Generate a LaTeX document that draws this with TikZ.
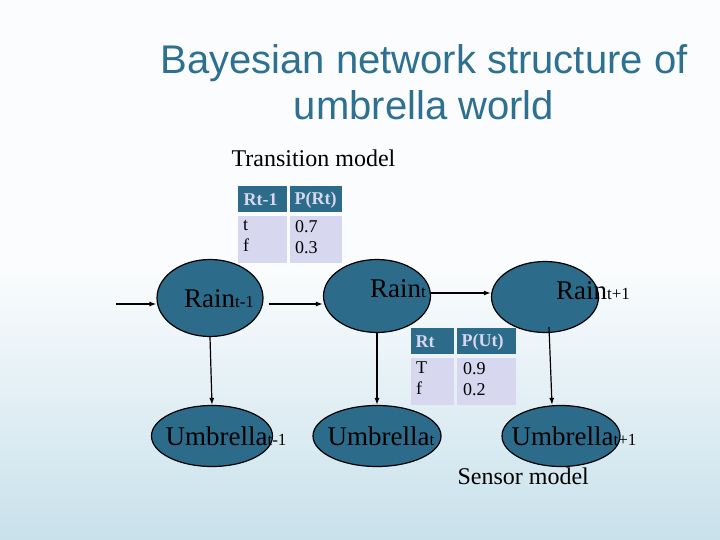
\documentclass[tikz,border=0pt]{standalone}
\usepackage{fontspec}
\setmainfont{Liberation Serif}
\newfontfamily\titlefont{Liberation Sans}
\usetikzlibrary{arrows.meta,shapes.geometric}
\definecolor{teal1}{RGB}{44,108,138}
\definecolor{titlec}{RGB}{46,112,144}
\definecolor{cellc}{RGB}{215,215,240}
\definecolor{bgtop}{RGB}{250,252,253}
\definecolor{bgbot}{RGB}{200,225,235}
\newcommand{\subsz}{\fontsize{17}{19}\selectfont}
\tikzset{
 ell/.style={ellipse,draw=black,line width=1.2pt,fill=teal1,inner sep=0pt},
 lbl/.style={font=\fontsize{27}{30}\selectfont,inner sep=0pt},
 arr/.style={-{Latex[length=7pt,width=5pt]},line width=1.2pt},
 hdr/.style={text=cellc,font=\bfseries\fontsize{18}{20}\selectfont,anchor=west},
 cell/.style={font=\fontsize{18}{21}\selectfont,anchor=north west,align=left,inner sep=0pt},
}
\begin{document}
\begin{tikzpicture}[x=1pt,y=-1pt]
\useasboundingbox (0,0) rectangle (720,540);
\shade[top color=bgtop,bottom color=bgbot,middle color=bgtop] (0,0) rectangle (720,540);
\node[titlec,font=\titlefont\fontsize{40}{46}\selectfont,align=center] (title) at (424,82) {Bayesian network structure of\\umbrella world};
\node[font=\fontsize{24}{26}\selectfont,anchor=west] (trans) at (228,158) {Transition model};
% transition table
\fill[teal1] (238,186) rectangle (287,212);
\fill[teal1] (290,186) rectangle (342,212);
\fill[cellc] (238,216) rectangle (287,263);
\fill[cellc] (290,216) rectangle (342,263);
\node[hdr] (h1) at (240,200) {Rt-1};
\node[hdr] (h2) at (291,200) {P(Rt)};
\node[cell] (c1) at (243,220) {t\\f};
\node[cell] (c2) at (295,220) {0.7\\0.3};
% sensor table
\fill[teal1] (411,328) rectangle (454,354);
\fill[teal1] (457,328) rectangle (516,354);
\fill[cellc] (411,358) rectangle (454,405);
\fill[cellc] (457,358) rectangle (516,405);
\node[hdr] (s1) at (412,342) {Rt};
\node[hdr] (s2) at (458,342) {P(Ut)};
\node[cell] (s3) at (416,362) {T\\f};
\node[cell] (s4) at (463,362) {0.9\\0.2};
% nodes
\node[ell,minimum width=106pt,minimum height=77pt] (r0) at (210,298) {};
\node[ell,minimum width=107pt,minimum height=73pt] (r1) at (377,296) {};
\node[ell,minimum width=107pt,minimum height=71pt] (r2) at (545,297) {};
\node[ell,minimum width=121pt,minimum height=61pt] (u0) at (212,436) {};
\node[ell,minimum width=128pt,minimum height=61pt] (u1) at (377,436) {};
\node[ell,minimum width=118pt,minimum height=61pt] (u2) at (561,436) {};
\node[lbl] (lr0) at (219,299) {Rain{\subsz t-1}};
\node[lbl] (lr1) at (398,289) {Rain{\subsz t}};
\node[lbl] (lr2) at (593,291) {Rain{\subsz t+1}};
\node[lbl] (lu0) at (226,436) {Umbrella{\subsz t-1}};
\node[lbl] (lu1) at (381,436) {Umbrella{\subsz t}};
\node[lbl] (lu2) at (574,436) {Umbrella{\subsz t+1}};
\node[font=\fontsize{24}{26}\selectfont,anchor=west] (sens) at (454,476) {Sensor model};
\coordinate (in) at (116,304);
\draw[arr] (in) -- (r0.west |- in);
\draw[arr] ([xshift=5pt]r0.east |- 0,304) -- (r1.west |- 0,304);
\draw[arr] (r1.east |- 0,293) -- (r2.west |- 0,293);
\draw[arr] (r0.south) -- (u0.north);
\draw[arr] (r1.south) -- (u1.north);
\draw[arr] ([xshift=4pt,yshift=6pt]r2.south) -- ([xshift=-9pt]u2.north);
\end{tikzpicture}
\end{document}
